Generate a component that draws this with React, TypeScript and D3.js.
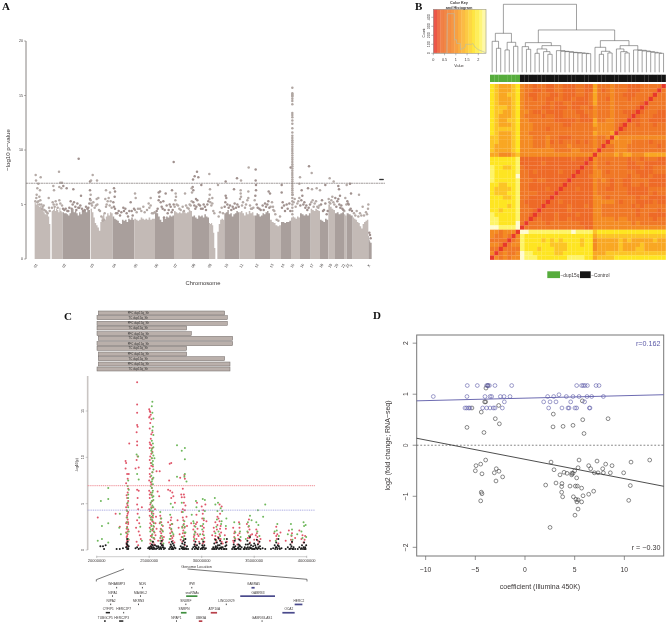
import React from 'react';
import * as d3 from 'd3';

// ---------- Panel A: genome-wide Manhattan ----------
const chromLabels = ['01','02','03','04','05','06','07','08','09','10','11','12','13','14','15','16','17','18','19','20','21','22','Y','X'];
const chromLabelPos = [108,193,277,343,408,470,527,581,630,680,725,771,816,849,878,907,936,965,991,1010,1031,1044,1055,1107];
const bandStarts = [104,155,188,272,338,403,465,522,576,627,652,673,718,765,810,843,873,900,932,960,985,1005,1032,1040,1058,1105];
const bandEnds = [151,188,270,338,403,465,522,576,627,646,673,718,765,810,843,873,900,932,960,985,1005,1032,1040,1058,1105,1115];
const bandTops = [
  [5.2,5.0,5.1,4.9,4.8,4.9,4.6,4.7,4.3,4.1,4.1,4.1,3.9,3.2],
  [4.4,4.5,4.7,4.4,4.6,4.5,4.3,4.7,4.4,4.3],
  [4.3,4.2,4.2,4.1,4.0,4.2,4.5,4.6,4.3,4.4,4.2,4.0,4.3,4.1,4.5,4.4,4.5,4.3,4.6,4.5],
  [4.6,4.3,3.8,3.3,3.1,2.9,2.6,3.4,3.9,4.1,3.6,3.9,4.2,4.0,4.3,4.2],
  [3.9,3.7,3.6,3.5,3.3,3.2,3.6,3.5,3.6,3.4,3.7,3.6,3.8,3.6],
  [3.7,3.6,3.5,3.6,3.8,3.7,3.6,3.7,3.6,3.8,3.6,3.7,3.7],
  [4.3,4.2,3.9,3.6,3.4,3.8,3.7,3.9,3.8,4.0,3.9,4.0],
  [4.4,4.3,4.2,4.3,4.2,4.4,4.3,4.2,4.3,4.5,4.4],
  [3.9,4.0,3.8,3.7,4.0,3.9,4.0,3.8,4.1,3.9,3.8],
  [3.3,3.2,3.3,3.1,2.4,1.0],
  [2.5,3.2,3.6,3.7,3.6],
  [4.2,4.3,4.5,4.1,4.2,3.9,4.1,4.2,4.4,4.3],
  [4.3,4.4,4.2,4.0,4.3,4.1,4.4,4.2,4.3,4.0],
  [4.0,4.2,4.1,3.9,4.0,4.2,4.1,4.3,4.4,4.2],
  [3.6,3.4,3.3,3.1,3.0,3.1],
  [3.4,3.4,3.3,3.4,3.4,3.5],
  [3.8,3.9,3.8,3.7,3.9,3.8],
  [4.2,4.1,4.0,4.1,4.0,4.2],
  [4.6,4.5,4.4,4.6,4.5,4.4],
  [3.6,3.5,3.4,3.7,3.6],
  [5.0,4.8,4.6,4.5],
  [4.2,4.3,4.1,4.2,4.3],
  [4.1,4.0],
  [4.2,4.1,4.0],
  [3.8,3.7,3.6,3.4,3.3,3.0,2.8,3.2,3.4,3.5,3.6],
  [2.1,1.8,1.6,1.5,1.5],
];
const bandIsDark = [0,0,1,0,1,0,1,0,1,0,0,1,0,1,0,1,0,1,0,1,0,1,0,1,0,1];
const manhattanPeaks = [
  107,7.7,108,7.2,115,6.9,122,7.5,112,6.5,120,6.3,110,5.9,118,5.7,146,5.6,160,6.7,162,6.3,177,8.0,181,7.0,186,7.0,178,6.6,184,6.5,190,6.7,200,6.5,220,6.4,236,9.2,243,5.8,
  270,7.1,273,7.2,278,7.7,291,7.2,270,6.3,272,5.9,290,5.5,318,6.3,330,6.1,342,6.5,345,6.2,344,5.7,405,6.0,407,5.6,392,5.2,452,5.6,480,6.2,476,6.1,497,6,516,6.3,521,8.9,527,6,
  555,6,579,7.3,584,7.6,591,8,595,7.5,604,6.8,578,6.6,575,6.5,580,6.3,576,6.1,588,5.5,628,7.8,630,6.4,629,5.9,637,5.6,654,6.8,677,7.1,677,5.8,702,6.4,711,7.4,723,7.2,746,8.4,
  767,8.2,767,7.2,768,6.8,768,6.3,722,6.3,722,6,745,6.2,806,6.2,810,6,845,6.8,845,6.1,872,8.4,900,7.5,898,6.9,878,5.9,905,6.3,927,8.5,935,7.9,924,6.5,936,6.4,950,6.5,960,6.3,
  976,6.8,989,7.4,1001,7.1,1015,6.7,1017,6.4,1040,6.8,1050,6.9,1053,6,1020,5.8,1077,5.9,1105,5,
];
const manhattanShoulder = [
  106,5.3,112,5.2,118,5.0,124,5.0,128,4.8,133,4.5,140,4.3,147,4.7,158,5.2,164,4.8,170,5.0,178,5.4,186,4.9,193,4.5,205,4.4,212,5.3,218,5.0,226,4.8,232,5.1,238,4.7,246,4.6,254,4.5,262,4.6,268,5.1,272,5.4,276,4.9,284,4.7,292,5.0,297,4.5,304,3.9,312,3.6,
  316,5.5,320,5.0,326,5.6,332,5.3,340,5.2,345,4.6,352,4.2,360,4.0,370,4.7,376,4.6,384,3.9,395,4.4,402,4.6,410,4.3,420,4.6,430,4.8,441,4.5,452,4.9,460,4.2,470,4.4,478,5.7,482,5.2,488,4.6,492,3.8,500,4.9,506,4.5,512,4.8,518,4.5,
  526,5.4,530,5.0,538,4.6,548,4.8,558,4.9,566,4.6,572,4.9,580,5.2,586,4.6,592,5.4,600,4.9,608,4.6,615,4.8,622,5.0,628,5.5,634,4.9,640,4.4,660,4.3,665,4.7,676,5.2,682,5.0,690,4.9,698,4.8,704,5.1,712,5.0,720,5.5,726,4.9,735,4.7,742,5.4,750,4.9,756,4.6,
  764,5.4,770,5.0,778,4.6,788,4.9,795,5.1,802,5.0,808,4.7,816,5.2,820,4.5,826,4.1,835,3.5,846,4.7,852,4.9,860,5.0,868,5.1,884,5.5,892,5.1,898,5.6,904,5.4,910,5.0,916,4.7,922,4.5,930,5.0,938,5.4,944,5.1,952,4.8,958,4.9,966,5.4,972,4.5,980,4.1,
  988,5.2,994,5.4,1000,5.2,1006,5.6,1012,5.3,1018,5.0,1024,4.9,1030,4.5,1036,5.6,1042,5.3,1046,5.0,1052,4.6,1062,4.2,1070,4.4,1080,4.2,1088,4.8,1098,4.3,1104,4.6,
];
const manhattanFringe = [
  109,5.6,115,5.3,121,5.4,126,4.6,131,4.9,137,4.4,143,4.2,149,4.4,156,4.7,161,5.0,167,5.3,173,4.7,181,5.1,189,4.6,197,4.6,202,4.4,208,4.7,215,4.6,222,5.2,229,4.5,235,4.7,241,4.9,250,4.4,258,4.8,265,4.7,270,5.5,274,5.1,280,5.2,288,4.9,295,5.6,300,4.4,308,3.5,314,4.2,
  318,4.8,323,5.3,329,4.9,335,4.7,342,4.8,348,4.2,356,4.4,364,4.3,372,4.4,380,4.2,388,4.4,398,4.0,405,4.5,414,4.6,424,4.4,434,4.3,446,5.1,448,4.7,456,4.2,464,4.3,473,4.6,476,5.4,485,4.8,490,5.3,494,4.5,503,4.2,509,5.0,515,4.3,521,5.0,
  524,4.8,528,5.7,534,4.9,542,4.5,552,4.4,562,4.7,569,5.0,575,5.3,583,4.9,589,4.8,596,5.0,603,4.6,611,5.0,618,4.5,625,5.3,631,5.2,637,5.1,643,4.2,656,3.9,669,4.2,674,4.8,679,5.6,686,4.7,694,4.5,701,4.6,708,4.7,716,4.8,723,5.7,729,5.2,738,5.0,745,5.6,753,4.6,760,4.7,
  766,5.8,773,4.7,782,4.5,791,4.5,798,4.8,805,5.3,812,4.8,819,4.8,823,4.4,830,3.6,840,3.9,848,5.2,855,4.4,863,4.6,871,4.4,881,5.2,887,4.8,895,5.3,901,4.9,907,5.8,913,5.2,919,4.9,926,4.7,934,5.2,941,4.8,948,5.3,955,4.7,963,5.0,969,4.4,976,5.1,983,4.4,
  986,5.5,991,5.1,997,5.7,1003,5.0,1009,4.8,1015,5.5,1021,4.7,1027,4.6,1033,4.4,1039,5.0,1044,5.1,1049,4.5,1056,4.4,1066,4.0,1075,3.9,1084,4.0,1092,4.0,1101,4.1,1108,2.4,1110,2.2,1112,1.9,
];
const markerPos = [1140,1143,1146,1149];
const markerValue = 7.3;
const spikeValues = [15.7,15.2,15.1,15,14.9,14.7,14.5,14.2,13.4,13.2,13,12.7,12.4,12,11.6,11.3,11.1,10.9,10.7,10.5,10.3,10.1,9.9,9.7,9.5,9.3,9.1,8.9,8.7,8.5,8.3,8.1,7.9,7.7,7.5,7.3,7.1,6.9,6.7,6.5,6.3,6.1,5.9,5.6,5.3,5.0,4.7,4.4,4.1];
const spikePos = 877;
const yTicksA = [0,5,10,15,20];
const thresholdA = 6.95;

// ---------- Panel B: clustered heatmap ----------
// left/upper triangle (down to the anti-diagonal) of a symmetric matrix, colour level 0-8
const heatTriangle = [
  '6544456 32212 21122 11122 11 42223 22211 12222 20',
  '6544456 32211 21122 11122 11 42123 22211 12222 0',
  '6544556 32112 22112 11122 12 42223 22111 22220',
  '6544456 32212 21122 11211 12 42213 22212 2220',
  '6544456 32222 21211 22111 12 42223 22222 210',
  '6555456 32222 11211 12112 21 32223 22222 10',
  '6554456 33211 21111 22211 22 32223 22111 0',
  '6544456 32222 12211 22221 12 32223 22210',
  '6544556 33222 22211 11121 11 42233 2220',
  '6544456 33322 22222 11222 22 43333 210',
  '6555556 33322 21222 22222 22 33333 20',
  '6544456 33222 22222 22222 22 43334 0',
  '5544456 33322 23221 11222 22 32230',
  '5544456 33322 23121 22212 12 3220',
  '5444456 33322 23222 23222 22 320',
  '5444456 33333 33322 22332 22 30',
  '4433345 33333 33333 33333 33 0',
  '6666667 11111 11111 11211 10',
  '6666667 11111 21111 11111 0',
  '7665567 21111 11111 11110',
  '7666667 22121 11112 1110',
  '7666668 22111 11111 110',
  '7666667 22212 21111 10',
  '6655667 22111 11111 0',
  '6555567 22111 12110',
  '6555667 22221 1110',
  '6665567 22111 110',
  '6666667 21111 10',
  '6666567 22111 0',
  '6656667 22210',
  '7666667 2210',
  '7766667 220',
  '7766668 20',
  '8877778 0',
  '3323330',
  '322320',
  '22220',
  '3320',
  '220',
  '30',
  '0',
];
const heatColors = ['#e8392b','#ee6a27','#f07826','#f48b23','#f9a723','#fcc526','#fee522','#fef468','#fffbd0'];
const keyTicksX = [0,0.5,1,1.5,2];
const keyTicksY = [0,100,200,300,400];
const histValues = [0,0.6,0.62,0.93,0.94,1.03,1.04,1.2,1.21,1.42,1.43,1.7,1.75,1.85,2.0,2.2,2.34];
const histCounts = [0,0,440,440,150,150,110,110,40,70,100,100,110,70,40,20,5];
const dupLeaves = 7;
type T = number | [number, T, T];
const dendrogram: T = [204,
  [117, [93,0,[72,1,2]], [90,[67,3,4],[78,5,6]]],
  [127,
    [89, [77,7,[69,8,9]],
      [80,[70,[57,10,11],[62,12,[54,13,14]]],
        [65,15,[63,16,[62,17,[60,18,[59,19,[58,20,[57,21,[56,22,23]]]]]]]]]],
    [95, [75,24,[63,[54,25,26],[58,27,28]]],
      [80,[70,29,[62,30,[58,31,32]]],
        [67,33,[66,34,[64,35,[62,36,[60,37,[58,38,[57,39,40]]]]]]]]],
  ]];

// ---------- Panel C: regional Manhattan ----------
const trackNames = ['PFC dup15q_Sh','TC dup15q_Sh','PFC dup15q_Sh','TC dup15q_Sh','PFC dup15q_Sh','TC dup15q_Sh','PFC dup15q_Sh','TC dup15q_Sh','PFC dup15q_Sh','TC dup15q_Sh','PFC dup15q_Sh','TC dup15q_Sh'];
const trackStart = [145,141,141,141,141,145,141,141,145,145,145,141];
const trackEnd = [524,532,532,410,424,548,548,410,410,524,540,540];
const trackRow = [39,53,70,84,101,115,131,145,162,176,192,207];
const xTicksC = [20,25,30,35,40];
const yTicksC = [0,5,10,15];
const redPts = [
  20.1,3.5,21.8,3.9,22.2,2.5,22.9,0.4,22.85,0.8,22.95,1.2,22.9,1.5,22.8,1.9,23,2.2,22.9,2.5,22.85,3.0,22.95,3.3,22.9,3.7,23,4.1,22.8,4.6,22.9,5.0,22.9,5.6,22.95,6.2,22.8,7.2,22.95,7.7,22.9,8.2,23.05,8.2,22.75,8.8,22.75,9.6,22.8,9.4,23.1,11.5,22.9,1.0,22.95,1.7,23,2.8,22.85,3.5,
  23.85,18.1,23.85,15.7,23.85,14.8,23.85,13.5,23.9,13.3,23.8,12.7,23.85,11.7,23.85,11.3,23.8,9.7,23.9,10.1,23.7,8.8,24,8.9,23.85,6.5,24,6.4,23.9,5.6,23.85,4.9,23.95,4.4,23.9,3.9,23.85,3.2,24.05,2.9,23.75,2.4,24,2.0,24.1,1.6,24.2,1.2,23.8,0.9,23.95,0.5,24.3,4.6,
  25,15.2,25.05,15,25.1,14.9,25.15,14.6,25.05,14.4,25,14.3,25.2,14.1,25.1,13.7,25.05,13.1,25.3,12.7,25.15,12,25.05,11.6,25.1,11.4,25.2,11.3,25.3,11,25.2,10.4,25.25,9.9,25.05,9.7,25.2,9.1,25.05,8.8,25.3,8.4,25.1,7.9,25,7.5,25.2,7.1,25,6.4,25.15,6.2,25.25,5.9,25.05,5.6,25.3,5.3,25.1,4.9,25.2,4.6,25,4.4,25.25,4.1,25.4,3.9,25.05,3.7,25.35,3.5,25.15,3.3,25.4,3.0,25.2,2.7,25.05,2.4,25.35,2.2,25.5,1.9,25.25,1.6,25.4,1.3,25.1,1.1,25.3,0.9,25.5,0.6,25.2,0.4,25.6,2.9,25.55,4.4,25.65,3.6,25.7,8.5,26,8.5,25.8,6.3,25.95,5.8,
  26.0,2.9,26.1,2.3,26.15,1.8,26.05,1.3,26.2,0.9,26.1,3.4,26.3,2.6,26.2,0.6,26.4,1.4,26.8,3.0,26.95,2.4,27,1.8,27.05,1.2,26.9,0.8,27.1,3.5,27.2,2.8,27.15,2.0,27.3,1.5,27.4,0.8,26.8,6.5,27.0,6.4,27.1,5.6,27.3,5.8,27.45,5.1,27.2,6.2,26.95,9.3,27.1,9.4,26.9,7.5,
  27.7,3.2,27.8,2.4,27.9,1.7,28,1.1,28.1,4.1,28.2,3.5,28.3,2.8,28.25,2.1,28.35,1.5,28.15,0.9,28.4,0.5,28.05,6.0,28.1,5.7,28.3,6.0,28.35,5.7,28.2,6.6,28.4,7.7,28.35,8.1,27.95,7.8,28.45,4.8,28.4,4.3,28.55,3.6,28.6,2.6,
  29,2.9,29.2,2.2,29.3,1.6,29.25,1.0,29.4,0.6,29.5,3.8,29.55,3.0,29.6,2.3,29.7,1.5,29.75,0.9,30,4.7,30.1,3.9,30.2,3.2,30.05,2.6,30.15,2.0,30.25,1.3,30.1,0.7,29.55,5.1,30.35,4.9,30.45,3.1,
  31,1.6,31.15,2.4,31.3,3.0,31.25,1.2,31.35,0.8,31.5,3.6,31.45,2.2,31.55,1.4,31.7,4.9,31.9,4.7,31.7,3.1,31.8,2.6,31.85,1.9,31.65,1.2,32,0.7,32.2,1.6,32.3,2.3,32.4,0.9,
  33,2.4,33.1,1.8,33.2,1.2,33.05,0.8,33.55,3.0,33.6,2.4,33.45,1.6,33.7,1.0,33.4,0.6,34.3,2.8,34.4,1.9,34.5,3.3,34.55,1.3,34.6,0.8,34.8,1.7,35,1.1,35.2,2.2,35.3,1.4,35.4,0.7,35.6,1.2,
  36.5,1.0,36.9,1.8,37.1,2.5,37.15,1.2,37.3,0.7,37.5,1.9,38,1.0,38.3,2.1,38.55,1.5,38.6,0.8,38.9,1.3,39.3,2.1,39.5,1.2,39.7,0.8,39.85,1.5,
];
const redExtra = [
  22.85,0.6,22.95,2.0,22.85,2.3,23,3.0,22.95,3.9,22.85,4.3,22.95,4.8,23,5.3,22.85,5.9,23,6.6,22.85,1.4,23.05,1.1,22.8,2.9,
  25.1,0.7,25.15,1.5,25.3,2.1,25.1,2.9,25.25,3.6,25.05,4.2,25.35,4.6,25.15,5.1,25.05,6.0,25.25,6.7,25.15,7.3,25.3,7.7,25.05,8.2,25.15,9.4,25.35,9.0,25.1,10.1,25.3,10.6,25.05,11.0,25.2,12.5,25.3,3.1,25.45,2.5,25.5,1.2,25.4,0.8,25.6,1.6,25.7,2.3,25.85,1.0,
  26.1,1.0,26.2,1.5,26.05,2.0,26.25,2.1,26.3,1.1,26.15,3.0,26.05,3.7,27,2.7,27.1,2.2,27.2,1.3,27.05,3.2,27.25,1.0,27.1,1.5,28.1,1.4,28.2,1.8,28.3,1.1,28.15,2.5,28.35,2.4,28.25,3.2,28.4,1.8,28.2,4.4,28.3,5.1,
  29.3,2.6,29.4,1.9,29.25,1.4,29.5,1.2,29.6,1.7,29.45,2.8,30,1.2,30.1,1.7,30.2,2.4,30.25,0.9,30.05,3.4,30.15,4.3,31.2,2.0,31.3,1.5,31.4,1.0,31.5,2.7,31.7,1.7,31.75,2.3,31.6,3.4,31.8,1.2,31.9,0.9,31.75,3.9,
  33.1,1.4,33.15,2.0,33.0,1.0,33.6,1.8,33.5,1.2,34.4,1.3,34.55,2.2,34.45,2.5,34.65,1.6,35.25,1.8,35.35,1.0,35.15,1.6,37.2,1.7,37.1,1.5,38.5,1.1,38.6,1.8,39.8,1.1,39.6,1.6,
];
const greenPts = [
  20.1,1.0,20.5,1.2,20.4,5.3,21.1,6.7,21.1,5.5,21.1,2.9,20.5,2.6,21.1,0.8,22.2,3.9,22.15,2.4,22.3,1.7,22.9,4.2,22.95,5.1,23,5.6,23,6.0,23.05,6.5,22.95,6.9,23,7.5,22.9,3.0,22.85,1.8,23,1.2,23.8,10.3,23.95,10.1,23.85,8.2,24,7.6,24.05,3.5,24.15,2.5,24.3,1.0,
  25.3,16.0,25.25,15.5,25.3,14.8,25.4,14.2,25.35,13.3,25.4,12.4,25.25,11.8,25.4,11.1,25.25,10.9,25.3,10.5,25.4,10.2,25.25,9.9,25.35,9.2,25.5,9.9,25.3,8.4,25.2,8.0,25.4,7.8,25.25,7.4,25.35,7.1,25.25,6.7,25.35,6.4,25.2,6.0,25.3,5.7,25.4,5.4,25.15,5.1,25.3,4.8,25.2,4.5,25.35,4.2,25.25,3.9,25.15,3.5,25.3,3.2,25.45,2.9,25.2,2.6,25.35,2.3,25.1,2.0,25.3,1.7,25.45,1.3,25.15,1.0,
  26.05,4.1,26.15,3.4,26.2,2.7,26.3,2.0,26.1,1.5,26.05,1.0,26.35,0.7,27.05,5.0,27.25,4.6,27.0,3.8,27.1,2.3,27.3,1.7,26.95,1.2,27.65,7.9,27.65,11.3,28.1,10.7,28.4,11.0,28.4,9.8,28.4,8.2,28.35,7.9,28.55,7.4,28.1,5.1,28.2,4.1,28.35,3.1,28.15,2.4,28.45,1.9,28.3,1.2,
  29.05,3.8,29.2,3.1,29.35,2.0,29.3,1.2,29.45,5.3,29.5,4.6,29.75,4.2,29.9,2.6,29.85,1.7,30.1,5.5,30.3,5.4,30.2,3.4,30.1,1.1,30.3,4.2,31.25,5.6,31.3,4.9,31.5,4.2,31.55,5.1,31.45,3.3,31.6,2.0,31.35,1.1,31.8,4.5,31.9,3.1,31.95,4.2,32.35,3.4,32.3,2.6,32.15,1.2,
  33.1,3.0,33.2,1.9,33.6,2.8,33.7,1.4,34.35,2.0,34.5,2.6,34.6,3.7,34.2,1.2,34.75,3.2,35.2,3.0,35.35,4.3,35.4,2.7,35.5,1.5,35.85,3.6,36.05,4.9,36.95,2.0,37.2,2.8,37.35,1.5,37.05,1.0,38.2,1.7,38.5,2.8,38.6,2.2,38.65,1.1,39.1,1.7,39.5,2.0,39.6,1.3,39.75,2.6,39.9,2.7,39.7,3.0,39.95,1.4,
];
const greenExtra = [
  25.3,12.9,25.35,11.5,25.2,10.7,25.35,9.6,25.25,9.4,25.4,8.7,25.3,7.6,25.15,6.9,25.3,6.2,25.4,5.8,25.25,5.3,25.4,4.6,25.15,4.3,25.35,3.7,25.25,3.3,25.4,2.6,25.15,2.2,25.45,2.0,25.25,1.4,25.35,0.9,
  23,4.6,22.9,3.5,22.9,2.4,23.05,2.0,26.15,2.2,26.25,1.3,26.05,3.0,27.15,2.8,27.2,1.9,27.05,1.5,28.25,2.7,28.35,1.9,28.2,1.4,28.4,2.5,29.3,1.7,29.4,2.5,29.25,2.9,30.15,2.8,30.2,1.6,30.05,2.2,31.3,1.8,31.4,2.5,31.75,1.5,31.85,2.8,33.15,1.3,33.65,2.0,34.5,1.5,34.4,3.0,35.3,2.0,37.15,2.1,38.55,1.6,
];
const blackPts = [
  20.35,0.4,20.6,0.4,20.85,0.5,20.7,0.1,21.9,0.1,22.2,0.1,22.5,0.2,22.8,0.3,22.9,0.1,22.95,0.5,23,0.2,22.85,0.7,22.95,0.9,22.9,1.2,23,0.1,23.7,0.2,23.85,0.3,24,0.1,24.15,0.2,
  24.9,0.2,25,0.3,25.05,0.1,25.15,0.4,25.2,0.2,25.25,0.6,25.3,0.1,25.35,0.9,25.4,0.3,25.45,0.1,25.55,0.5,25.65,0.1,25.75,0.2,25.85,0.4,25.95,0.1,26.05,0.3,26.1,0.7,26.15,0.1,26.2,1.0,26.25,0.3,26.3,0.5,26.4,0.1,26.5,0.2,
  26.9,0.1,27,0.3,27.05,0.6,27.1,0.1,27.15,0.9,27.2,0.3,27.3,0.1,27.35,0.5,27.5,0.2,27.9,0.1,28,0.4,28.1,0.2,28.15,0.7,28.2,0.1,28.25,1.0,28.3,0.3,28.35,0.6,28.4,0.1,28.45,1.2,28.5,0.2,28.6,0.4,28.7,0.1,
  29.1,0.1,29.2,0.3,29.3,0.6,29.35,0.1,29.4,0.9,29.45,0.3,29.55,0.5,29.6,0.1,29.7,0.3,29.8,0.7,29.9,0.1,30,0.2,30.05,0.5,30.1,0.1,30.15,0.9,30.2,0.3,30.3,0.1,30.4,0.2,
  31,0.1,31.1,0.3,31.2,0.7,31.25,0.1,31.3,1.1,31.35,0.4,31.4,0.1,31.45,0.8,31.5,0.3,31.6,1.3,31.65,0.1,31.7,0.5,31.75,1.0,31.8,0.2,31.85,0.7,31.9,0.1,32,0.3,32.1,0.1,32.25,0.4,32.3,0.8,32.35,0.1,32.4,1.2,
  32.9,0.1,33,0.3,33.05,0.6,33.1,0.1,33.15,1.0,33.2,0.4,33.3,0.1,33.45,0.2,33.5,0.6,33.55,0.1,33.6,1.1,33.65,0.4,33.7,0.1,33.8,0.3,
  34,0.1,34.1,0.3,34.2,0.6,34.3,0.1,34.35,1.0,34.4,0.3,34.5,0.1,34.55,0.7,34.6,1.4,34.65,0.2,34.7,0.5,34.8,0.1,34.9,0.4,35,0.7,35.05,0.1,35.15,0.3,35.25,1.1,35.3,0.1,35.35,0.6,35.45,0.2,35.5,0.9,35.6,0.1,35.8,0.2,36.05,0.1,
  36.6,0.1,36.8,0.2,36.95,0.5,37,0.1,37.1,0.8,37.15,0.3,37.2,0.1,37.3,1.2,37.35,0.4,37.45,0.1,37.6,0.2,
  38,0.1,38.2,0.3,38.35,0.1,38.45,0.6,38.5,0.2,38.6,0.9,38.65,0.1,38.75,0.3,38.9,0.1,39.15,0.1,39.3,0.3,39.45,0.1,39.55,0.5,39.65,0.1,39.75,0.8,39.85,0.3,39.9,0.1,39.95,0.5,
];
const blackExtra = [
  22.9,0.6,22.85,0.3,23.05,0.4,25.1,0.2,25.25,0.3,25.35,0.5,25.5,0.2,25.7,0.4,25.9,0.3,26.1,0.2,26.2,0.5,26.35,0.3,27.1,0.4,27.2,0.1,27.25,0.7,27.4,0.3,28.15,0.3,28.3,0.1,28.4,0.8,28.55,0.1,29.35,0.4,29.5,0.2,29.65,0.1,30.1,0.3,30.25,0.5,
  31.15,0.1,31.3,0.3,31.45,0.2,31.55,0.5,31.7,0.2,31.85,0.3,32.2,0.1,32.35,0.5,33.1,0.3,33.2,0.1,33.5,0.3,33.6,0.5,34.1,0.1,34.25,0.2,34.4,0.6,34.6,0.3,34.75,0.2,34.95,0.1,35.1,0.5,35.2,0.2,35.4,0.3,35.55,0.4,37.05,0.3,37.25,0.5,37.4,0.2,38.4,0.1,38.55,0.4,38.7,0.1,39.5,0.2,39.7,0.3,39.8,0.1,
];
const redThreshold = 6.94;
const blueThreshold = 4.3;
const geneNames = ['WHAMMP3','NDN','IPW','GABRA5','NIPA1','MAGEL2','snoRNAs','GABRB3','NIPA2','MKRN3','SNURF','LINC00929','HERC2','CYFIP1','HERC2P7','SNRPN','ATP10A','OCA2','TUBGCP5','HERC2P3','NPAP1','UBE3A','GABRG3-AS1'];
const geneRow = [0,0,0,0,1,1,1,1,2,2,2,2,2,3,3,3,3,3,4,4,4,4,4];
const geneStart = [23.18,23.91,25.32,27.03,23.06,23.86,25.17,26.71,23.01,23.8,25.15,26.3,28.26,22.88,23.38,25.02,25.87,27.91,22.83,23.26,24.88,25.53,27.32];
const geneEnd = [23.18,23.91,25.32,27.12,23.08,23.86,25.49,27.7,23.03,23.8,25.15,26.31,28.48,23.0,23.38,25.18,26.05,28.26,22.88,23.38,24.88,25.63,27.32];
const geneClass = [0,0,0,3,0,0,1,3,0,0,0,0,3,0,0,1,2,3,0,0,0,2,0];
const geneColors = ['#222222','#3f8f3f','#b8404a','#4a4a8c'];

// ---------- Panel D: scatter ----------
const blueX = [-9.23,-5.81,-4.8,-5.84,-6.04,-5.87,-5.67,-5.54,-4.26,-4.03,-3.86,-3.72,-3.59,-3.02,-3.52,-3.36,-3.19,-3.86,-3.02,-3.52,-2.48,-2.11,-2.08,-2.28,-1.51,-1.34,1.88,2.28,2.38,2.52,2.89,3.12,3.42,3.72,4.16,4.33,4.43,4.6,4.83,5.03,5.2,5.2,5.44,5.7,5.87,6.04,6.28,6.24,6.0,6.48,6.54,6.71,7.15,7.45,7.89];
const blueY = [.955,1.17,1.17,.955,.73,.73,.73,.73,.73,.955,1.17,1.17,1.17,1.17,.955,.955,.73,.73,.73,.73,.955,.955,.85,.73,.955,1.17,.85,.955,.73,.85,.955,.85,.99,.73,.955,.73,.73,.85,.955,.73,.73,1.17,.955,1.17,1.17,1.17,1.17,.955,.85,.73,.73,.955,1.17,1.17,.955];
const blackX = [-5.84,-5.34,-4.4,-4.13,-4.06,-3.96,-3.93,-3.76,-2.99,-2.65,-2.58,2.85,2.82,3.83,4.83,5.77,5.81,5.94,8.36,-5,-4.93,-4.46,-3.96,-4.33,-2.89,-3.09,-2.62,-2.25,-2.92,-4.4,-4.33,-4.46,2.62,2.92,2.08,3.12,3.52,3.93,4.23,3.72,3.69,3.69,3.79,2.52,4.53,4.7,4.7,4.83,5,5.34,5.44,5.2,5.07,5.27,5.7,4.87,5.13,5.23,5.34,5.7,5.34,5.03,5.84,6.41,6.91,6.41,6.61,6.98,7.25,7.35,7.82,7.89,8.12,8.59,8.76,9.93,10.67,10.6,10.44,12.55];
const blackY = [.35,.73,.65,.25,.85,.85,1.12,1.17,.52,.78,.42,.61,.36,.37,.39,.87,.5,.23,.52,-.5,-.4,-.37,-.29,-.56,-.46,-.54,-.51,-.62,-.7,-.92,-.95,-1.09,-.33,-.48,-.78,-.74,-.58,-.53,-.55,-.75,-.81,-.92,-1.01,-1.61,-.8,-.55,-.58,-.55,-.5,-.44,-.29,-.64,-.8,-.8,-.84,-1.01,-1.06,-1.11,-1.07,-1.11,-1.25,-1.37,-.99,-.96,-.9,-.4,-.46,-.54,-.31,-.54,-.46,-.54,-.37,-.54,-.4,-.54,-.33,-.79,-1.08,-.29];
const blueFit = [[-10.9,.87],[13.96,.99]];
const blackFit = [[-10.9,.137],[13.96,-.804]];
const xTicksD = [-10,-5,0,5,10];
const yTicksD = [-2,-1,0,1,2];

const sans = '"Liberation Sans", Arial, sans-serif';
const serif = '"Liberation Serif", "Times New Roman", serif';
const pairs = (a: number[]) => d3.range(0, a.length, 2).map(i => [a[i], a[i + 1]]);
const ink = '#3a3636';

function PanelA() {
  const x = d3.scaleLinear().domain([78, 1155]).range([26, 385]);
  const y = d3.scaleLinear().domain([0, 20]).range([259, 41]);
  const light = '#c3bab6', dark = '#a99f9c';
  const colourAt = (p: number) => {
    const i = bandStarts.findIndex((s, k) => p >= s && p <= bandEnds[k]);
    return i >= 0 && bandIsDark[i] ? '#a0918e' : '#b4aaa6';
  };
  const area = d3.area<number[]>().x(d => x(d[0])).y0(y(0)).y1(d => y(d[1])).curve(d3.curveStepAfter);
  const dots = [...pairs(manhattanFringe), ...pairs(manhattanShoulder), ...pairs(manhattanPeaks)];
  return (
    <g>
      {bandStarts.map((s, i) => {
        const tops = bandTops[i];
        const w = (bandEnds[i] - s) / tops.length;
        const pts = [...tops.map((t, k) => [s + k * w, t]), [bandEnds[i], tops[tops.length - 1]]];
        return <path key={i} d={area(pts) || ''} fill={bandIsDark[i] ? dark : light} />;
      })}
      {dots.map((p, i) => <circle key={i} cx={x(p[0])} cy={y(p[1])} r={1.25} fill={colourAt(p[0])} />)}
      {spikeValues.map((v, i) => <circle key={i} cx={x(spikePos)} cy={y(v)} r={1.25} fill="#b0a6a2" />)}
      <line x1={x(78)} x2={x(1155)} y1={y(thresholdA)} y2={y(thresholdA)} stroke="#8a8482" strokeWidth={0.8} strokeDasharray="2 0.5" />
      {markerPos.map(p => <circle key={p} cx={x(p)} cy={y(markerValue)} r={0.8} fill="#222" />)}
      <line x1={x(78)} x2={x(78)} y1={y(20)} y2={y(0)} stroke="#6a6462" strokeWidth={0.8} />
      {yTicksA.map(t => (
        <g key={t}>
          <line x1={x(78) - 2} x2={x(78)} y1={y(t)} y2={y(t)} stroke="#6a6462" strokeWidth={0.5} />
          <text x={x(78) - 3} y={y(t) + 1.2} fontSize={3.6} textAnchor="end" fontFamily={sans} fill={ink}>{t}</text>
        </g>
      ))}
      {chromLabels.map((c, i) => (
        <text key={c} transform={`translate(${x(chromLabelPos[i])},266) rotate(-60)`} fontSize={3.8} textAnchor="middle" dominantBaseline="middle" fontFamily={sans} fill={ink}>{c}</text>
      ))}
      <text x={203} y={284.5} fontSize={5.8} textAnchor="middle" fontFamily={sans} fill={ink}>Chromosome</text>
      <text transform="translate(9.5,150) rotate(-90)" fontSize={6.1} textAnchor="middle" fontFamily={sans} fill={ink}>−log10 p−value</text>
      <text x={2} y={10} fontSize={11} fontWeight="bold" fontFamily={serif} fill="#111">A</text>
    </g>
  );
}

function PanelB() {
  const n = heatTriangle.length;
  const rows = heatTriangle.map(r => r.replace(/ /g, '').split('').map(Number));
  const level = (r: number, c: number) => (r + c <= n - 1 ? rows[r][c] : rows[n - 1 - c][n - 1 - r]);
  const band = d3.scaleBand<number>().domain(d3.range(n)).range([490, 665.7]);
  const rowBand = d3.scaleBand<number>().domain(d3.range(n)).range([84, 259.7]);
  const heat = d3.scaleLinear<string>().domain(heatColors.map((_, i) => i)).range(heatColors);
  const h = d3.scaleLinear().domain([0, 204]).range([72.3, 4.3]);
  const segs: number[][] = [];
  const walk = (t: T): [number, number] => {
    if (typeof t === 'number') return [band(t)! + band.bandwidth() / 2, 0];
    const [a, ah] = walk(t[1]);
    const [b, bh] = walk(t[2]);
    segs.push([a, ah, a, t[0]], [b, bh, b, t[0]], [a, t[0], b, t[0]]);
    return [(a + b) / 2, t[0]];
  };
  walk(dendrogram);
  const kx = d3.scaleLinear().domain([0, 2.34]).range([433.3, 486]);
  const ky = d3.scaleLinear().domain([0, 400]).range([53.3, 17.3]);
  const steps = d3.range(0, 2.34, 0.156);
  const line = d3.line<number>().x((_, i) => kx(histValues[i])).y(d => ky(d));
  return (
    <g>
      {d3.range(n).map(r => d3.range(n).map(c => (
        <rect key={r + '-' + c} x={band(c)} y={rowBand(r)} width={band.bandwidth() + 0.15} height={rowBand.bandwidth() + 0.15} fill={heat(level(r, c))} />
      )))}
      {d3.range(n).map(c => (
        <rect key={c} x={band(c)} y={74.7} width={band.bandwidth() + 0.15} height={7.3} fill={c < dupLeaves ? '#56ac3c' : '#141414'} />
      ))}
      {segs.map((s, i) => <line key={i} x1={s[0]} x2={s[2]} y1={h(s[1])} y2={h(s[3])} stroke="#555" strokeWidth={0.55} />)}
      {steps.map(v => (
        <rect key={v} x={kx(v)} y={9.3} width={kx(v + 0.156) - kx(v) + 0.2} height={44} fill={heat(v / 2.34 * 8)} opacity={0.85} />
      ))}
      <rect x={433.3} y={9.3} width={52.7} height={44} fill="none" stroke="#888" strokeWidth={0.5} />
      <path d={line(histCounts) || ''} fill="none" stroke="#b4bcae" strokeWidth={0.6} />
      <text x={459} y={4} fontSize={3.8} textAnchor="middle" fontFamily={sans} fontWeight="bold" fill={ink}>Color Key</text>
      <text x={459} y={9.2} fontSize={3.8} textAnchor="middle" fontFamily={sans} fontWeight="bold" fill={ink}>and Histogram</text>
      {keyTicksX.map(t => (
        <g key={t}>
          <line x1={kx(t)} x2={kx(t)} y1={53.3} y2={55.3} stroke="#555" strokeWidth={0.4} />
          <text x={kx(t)} y={60.5} fontSize={3.8} textAnchor="middle" fontFamily={sans} fill={ink}>{t}</text>
        </g>
      ))}
      <text x={459} y={66.5} fontSize={3.8} textAnchor="middle" fontFamily={sans} fill={ink}>Value</text>
      {keyTicksY.map(t => (
        <g key={t}>
          <line x1={431.3} x2={433.3} y1={ky(t)} y2={ky(t)} stroke="#555" strokeWidth={0.4} />
          <text transform={`translate(429.5,${ky(t)}) rotate(-90)`} fontSize={3.6} textAnchor="middle" fontFamily={sans} fill={ink}>{t}</text>
        </g>
      ))}
      <text transform="translate(425,33) rotate(-90)" fontSize={3.4} textAnchor="middle" fontFamily={sans} fill={ink}>Count</text>
      <rect x={547.3} y={271.3} width={12.7} height={6.8} fill="#56ac3c" />
      <text x={560.5} y={276.8} fontSize={4.8} fontFamily={sans} fill={ink}>−dup15q</text>
      <rect x={580} y={271.3} width={10.7} height={6.8} fill="#141414" />
      <text x={591.2} y={276.8} fontSize={4.8} fontFamily={sans} fill={ink}>−Control</text>
      <text x={415} y={10} fontSize={11} fontWeight="bold" fontFamily={serif} fill="#111">B</text>
    </g>
  );
}

function PanelC() {
  const x = d3.scaleLinear().domain([20, 40]).range([96.7, 306.7]);
  const y = d3.scaleLinear().domain([0, 15]).range([550, 411]);
  const tz = (v: number) => 50 + v / 3;
  const g = d3.scaleLinear().domain([22.6, 28.6]).range([tz(139), tz(771)]);
  const rowY = [584.3, 592.7, 601, 609.3, 617.7];
  const axisX = tz(113);
  return (
    <g>
      {trackNames.map((t, i) => (
        <g key={i}>
          <rect x={tz(trackStart[i])} y={300 + trackRow[i] / 3 - 2} width={(trackEnd[i] - trackStart[i]) / 3} height={4} fill="#bab0ab" stroke="#6e6764" strokeWidth={0.5} />
          <text x={tz(265)} y={300 + trackRow[i] / 3 + 1} fontSize={2.9} textAnchor="middle" fontFamily={sans} fill="#333">{t}</text>
        </g>
      ))}
      <line x1={axisX} x2={axisX} y1={376} y2={550} stroke="#c9c5c3" strokeWidth={1.6} />
      {yTicksC.map(t => (
        <g key={t}>
          <line x1={axisX - 2} x2={axisX} y1={y(t)} y2={y(t)} stroke="#999" strokeWidth={0.5} />
          <text transform={`translate(84,${y(t)}) rotate(-90)`} fontSize={3.6} textAnchor="middle" fontFamily={sans} fill={ink}>{t}</text>
        </g>
      ))}
      <text transform="translate(78,465) rotate(-90)" fontSize={3.4} textAnchor="middle" fontFamily={sans} fill={ink}>-log10(p)</text>
      {[...pairs(redPts), ...pairs(redExtra)].map((p, i) => <circle key={i} cx={x(p[0])} cy={y(p[1])} r={1} fill="#e0566a" />)}
      {[...pairs(greenPts), ...pairs(greenExtra)].map((p, i) => <circle key={i} cx={x(p[0])} cy={y(p[1])} r={1} fill="#6fb85c" />)}
      {[...pairs(blackPts), ...pairs(blackExtra)].map((p, i) => <circle key={i} cx={x(p[0])} cy={y(p[1])} r={1} fill="#1c1c1c" />)}
      <line x1={axisX} x2={315} y1={y(redThreshold)} y2={y(redThreshold)} stroke="#ef8f97" strokeWidth={1} strokeDasharray="1.2 0.7" />
      <line x1={axisX} x2={315} y1={y(blueThreshold)} y2={y(blueThreshold)} stroke="#8f8fd8" strokeWidth={0.8} strokeDasharray="1 0.8" />
      <line x1={x(20)} x2={x(40)} y1={556.7} y2={556.7} stroke="#aaa" strokeWidth={0.6} />
      {xTicksC.map(t => (
        <g key={t}>
          <line x1={x(t)} x2={x(t)} y1={555.7} y2={558} stroke="#777" strokeWidth={0.4} />
          <text x={x(t)} y={562.2} fontSize={4} textAnchor="middle" fontFamily={sans} fill={ink}>{t * 1000000}</text>
        </g>
      ))}
      <text x={196.5} y={567.5} fontSize={3.9} textAnchor="middle" fontFamily={sans} fill={ink}>Genome Location</text>
      <path d={`M${x(22.6)},569 L${g(22.6)},579.7 L${g(22.6)},581.5`} fill="none" stroke="#555" strokeWidth={0.8} />
      <path d={`M${x(28.6) + 0.5},569 L${g(28.6)},579.3 L${g(28.6)},581.5`} fill="none" stroke="#555" strokeWidth={0.8} />
      {geneNames.map((name, i) => {
        const a = g(geneStart[i]), b = g(geneEnd[i]), r = rowY[geneRow[i]];
        return (
          <g key={name}>
            <text x={(a + b) / 2} y={r + 0.8} fontSize={3.2} textAnchor="middle" fontFamily={sans} fill={ink}>{name}</text>
            <rect x={Math.min(a, b) - 0.4} y={r + 2.6} width={Math.max(Math.abs(b - a), 0.8)} height={geneClass[i] ? 1.7 : 1.5} fill={geneColors[geneClass[i]]} />
          </g>
        );
      })}
      <text x={64} y={320} fontSize={11} fontWeight="bold" fontFamily={serif} fill="#111">C</text>
    </g>
  );
}

function PanelD() {
  const x = d3.scaleLinear().domain([-10.9, 13.96]).range([416.7, 663.7]);
  const y = d3.scaleLinear().domain([-2.17, 2.16]).range([556, 335]);
  const fit = d3.line<number[]>().x(d => x(d[0])).y(d => y(d[1]));
  const blue = '#5c5aa8';
  return (
    <g>
      <rect x={416.7} y={335} width={247} height={221} fill="none" stroke="#777" strokeWidth={1} />
      {blackX.map((v, i) => <circle key={i} cx={x(v)} cy={y(blackY[i])} r={1.9} fill="none" stroke="#3a3a3a" strokeWidth={0.6} />)}
      {blueX.map((v, i) => <circle key={i} cx={x(v)} cy={y(blueY[i])} r={1.9} fill="none" stroke={blue} strokeWidth={0.6} />)}
      <path d={fit(blueFit) || ''} fill="none" stroke={blue} strokeWidth={0.9} />
      <path d={fit(blackFit) || ''} fill="none" stroke="#3a3a3a" strokeWidth={0.9} />
      <line x1={416.7} x2={663.7} y1={y(0)} y2={y(0)} stroke="#333" strokeWidth={0.6} strokeDasharray="1.8 1.8" />
      {xTicksD.map(t => (
        <g key={t}>
          <line x1={x(t)} x2={x(t)} y1={556} y2={560} stroke="#666" strokeWidth={0.7} />
          <text x={x(t)} y={572} fontSize={6.8} textAnchor="middle" fontFamily={sans} fill={ink}>{t < 0 ? '−' + -t : t}</text>
        </g>
      ))}
      {yTicksD.map(t => (
        <g key={t}>
          <line x1={412.7} x2={416.7} y1={y(t)} y2={y(t)} stroke="#666" strokeWidth={0.7} />
          <text transform={`translate(408,${y(t)}) rotate(-90)`} fontSize={6.8} textAnchor="middle" fontFamily={sans} fill={ink}>{t < 0 ? '−' + -t : t}</text>
        </g>
      ))}
      <text x={540} y={588.5} fontSize={7} textAnchor="middle" fontFamily={sans} fill={ink}>coefficient (Illumina 450K)</text>
      <text transform="translate(389.5,445.5) rotate(-90)" fontSize={7} textAnchor="middle" fontFamily={sans} fill={ink}>log2 (fold change; RNA−seq)</text>
      <text x={660.5} y={346} fontSize={7.2} textAnchor="end" fontFamily={sans} fill={blue}>r=0.162</text>
      <text x={660.5} y={549.8} fontSize={7.2} textAnchor="end" fontFamily={sans} fill={ink}>r = −0.30</text>
      <text x={373} y={319} fontSize={11} fontWeight="bold" fontFamily={serif} fill="#111">D</text>
    </g>
  );
}

export default function App() {
  return (
    <svg width={666} height={623} viewBox="0 0 666 623" style={{ position: 'absolute', left: 0, top: 0, background: '#fff', filter: 'blur(0.4px)' }}>
      <PanelA />
      <PanelB />
      <PanelC />
      <PanelD />
    </svg>
  );
}
